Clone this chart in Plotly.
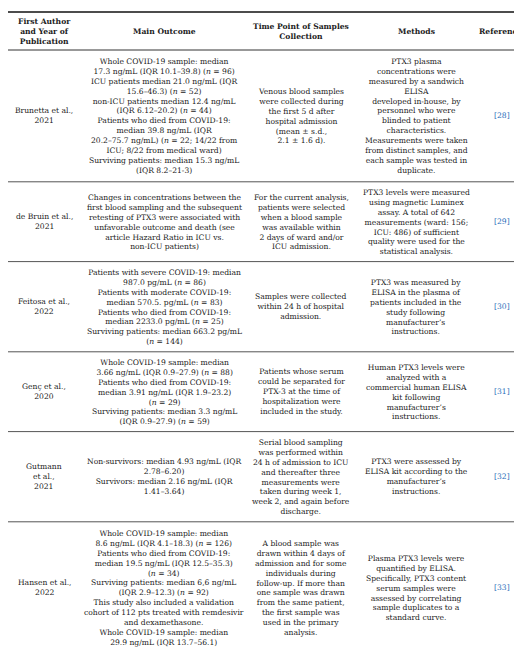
import plotly.graph_objects as go

headers = ["<b>First Author<br>and Year of<br>Publication</b>", "<b>Main Outcome</b>",
           "<b>Time Point of Samples<br>Collection</b>", "<b>Methods</b>", "<b>References</b>"]
authors = ["Brunetta et al.,<br>2021", "de Bruin et al.,<br>2021", "Feitosa et al.,<br>2022",
           "Genç et al.,<br>2020", "Gutmann<br>et al.,<br>2021", "Hansen et al.,<br>2022"]
outcomes = [
    "Whole COVID-19 sample: median<br>17.3 ng/mL (IQR 10.1–39.8) (<i>n</i> = 96)<br>ICU patients median 21.0 ng/mL (IQR<br>15.6–46.3) (<i>n</i> = 52)<br>non-ICU patients median 12.4 ng/mL<br>(IQR 6.12–20.2) (<i>n</i> = 44)<br>Patients who died from COVID-19:<br>median 39.8 ng/mL (IQR<br>20.2–75.7 ng/mL) (<i>n</i> = 22; 14/22 from<br>ICU; 8/22 from medical ward)<br>Surviving patients: median 15.3 ng/mL<br>(IQR 8.2–21-3)",
    "Changes in concentrations between the<br>first blood sampling and the subsequent<br>retesting of PTX3 were associated with<br>unfavorable outcome and death (see<br>article Hazard Ratio in ICU vs.<br>non-ICU patients)",
    "Patients with severe COVID-19: median<br>987.0 pg/mL (<i>n</i> = 86)<br>Patients with moderate COVID-19:<br>median 570.5. pg/mL (<i>n</i> = 83)<br>Patients who died from COVID-19:<br>median 2233.0 pg/mL (<i>n</i> = 25)<br>Surviving patients: median 663.2 pg/mL<br>(<i>n</i> = 144)",
    "Whole COVID-19 sample: median<br>3.66 ng/mL (IQR 0.9–27.9) (<i>n</i> = 88)<br>Patients who died from COVID-19:<br>median 3.91 ng/mL (IQR 1.9–23.2)<br>(<i>n</i> = 29)<br>Surviving patients: median 3.3 ng/mL<br>(IQR 0.9–27.9) (<i>n</i> = 59)",
    "Non-survivors: median 4.93 ng/mL (IQR<br>2.78–6.20)<br>Survivors: median 2.16 ng/mL (IQR<br>1.41–3.64)",
    "Whole COVID-19 sample: median<br>8.6 ng/mL (IQR 4.1–18.3) (<i>n</i> = 126)<br>Patients who died from COVID-19:<br>median 19.5 ng/mL (IQR 12.5–35.3)<br>(<i>n</i> = 34)<br>Surviving patients: median 6,6 ng/mL<br>(IQR 2.9–12.3) (<i>n</i> = 92)<br>This study also included a validation<br>cohort of 112 pts treated with remdesivir<br>and dexamethasone.<br>Whole COVID-19 sample: median<br>29.9 ng/mL (IQR 13.7–56.1)",
]
timepoints = [
    "Venous blood samples<br>were collected during<br>the first 5 d after<br>hospital admission<br>(mean ± s.d.,<br>2.1 ± 1.6 d).",
    "For the current analysis,<br>patients were selected<br>when a blood sample<br>was available within<br>2 days of ward and/or<br>ICU admission.",
    "Samples were collected<br>within 24 h of hospital<br>admission.",
    "Patients whose serum<br>could be separated for<br>PTX-3 at the time of<br>hospitalization were<br>included in the study.",
    "Serial blood sampling<br>was performed within<br>24 h of admission to ICU<br>and thereafter three<br>measurements were<br>taken during week 1,<br>week 2, and again before<br>discharge.",
    "A blood sample was<br>drawn within 4 days of<br>admission and for some<br>individuals during<br>follow-up. If more than<br>one sample was drawn<br>from the same patient,<br>the first sample was<br>used in the primary<br>analysis.",
]
methods = [
    "PTX3 plasma<br>concentrations were<br>measured by a sandwich<br>ELISA<br>developed in-house, by<br>personnel who were<br>blinded to patient<br>characteristics.<br>Measurements were taken<br>from distinct samples, and<br>each sample was tested in<br>duplicate.",
    "PTX3 levels were measured<br>using magnetic Luminex<br>assay. A total of 642<br>measurements (ward: 156;<br>ICU: 486) of sufficient<br>quality were used for the<br>statistical analysis.",
    "PTX3 was measured by<br>ELISA in the plasma of<br>patients included in the<br>study following<br>manufacturer’s<br>instructions.",
    "Human PTX3 levels were<br>analyzed with a<br>commercial human ELISA<br>kit following<br>manufacturer’s<br>instructions.",
    "PTX3 were assessed by<br>ELISA kit according to the<br>manufacturer’s<br>instructions.",
    "Plasma PTX3 levels were<br>quantified by ELISA.<br>Specifically, PTX3 content<br>serum samples were<br>assessed by correlating<br>sample duplicates to a<br>standard curve.",
]
references = ["[28]", "[29]", "[30]", "[31]", "[32]", "[33]"]

# layout parameters (pixels)
col_edges = [0, 72, 240, 345, 470, 522]
col_centers = [36, 156, 293, 408, 494]
LINE_H = 10.4
PAD = 7
TOP = 4
HEADER_H = 38
FONT = "DejaVu Serif"
FS = 7.6
TXT = "#222"
LINK = "#2a6ebb"

columns = [authors, outcomes, timepoints, methods, references]
nlines = lambda s: s.count("<br>") + 1

fig = go.Figure()
ann = []
shapes = []

# header
shapes.append(dict(type="line", x0=0, x1=522, y0=TOP, y1=TOP, line=dict(color="#111", width=1.6)))
for c, h in zip(col_centers, headers):
    ann.append(dict(x=c, y=TOP + HEADER_H / 2, text=h))
y = TOP + HEADER_H
shapes.append(dict(type="line", x0=0, x1=522, y0=y, y1=y, line=dict(color="#333", width=1)))

for r in range(len(authors)):
    row = [col[r] for col in columns]
    h = max(nlines(s) for s in row) * LINE_H + PAD
    for ci, (c, s) in enumerate(zip(col_centers, row)):
        ann.append(dict(x=c, y=y + h / 2, text=s,
                        font=dict(family=FONT, size=FS, color=LINK if ci == 4 else TXT)))
    y += h
    if r < len(authors) - 1:
        shapes.append(dict(type="line", x0=0, x1=522, y0=y, y1=y, line=dict(color="#555", width=1)))

for a in ann:
    a.setdefault("font", dict(family=FONT, size=FS, color=TXT))
    a.update(xref="x", yref="y", showarrow=False, align="center",
             xanchor="center", yanchor="middle")

fig.update_layout(width=522, height=653, margin=dict(l=0, r=0, t=0, b=0),
                  paper_bgcolor="white", plot_bgcolor="white",
                  xaxis=dict(range=[0, 522], visible=False, fixedrange=True),
                  yaxis=dict(range=[653, 0], visible=False, fixedrange=True),
                  annotations=ann, shapes=shapes, showlegend=False)
fig.write_html("out.html")
